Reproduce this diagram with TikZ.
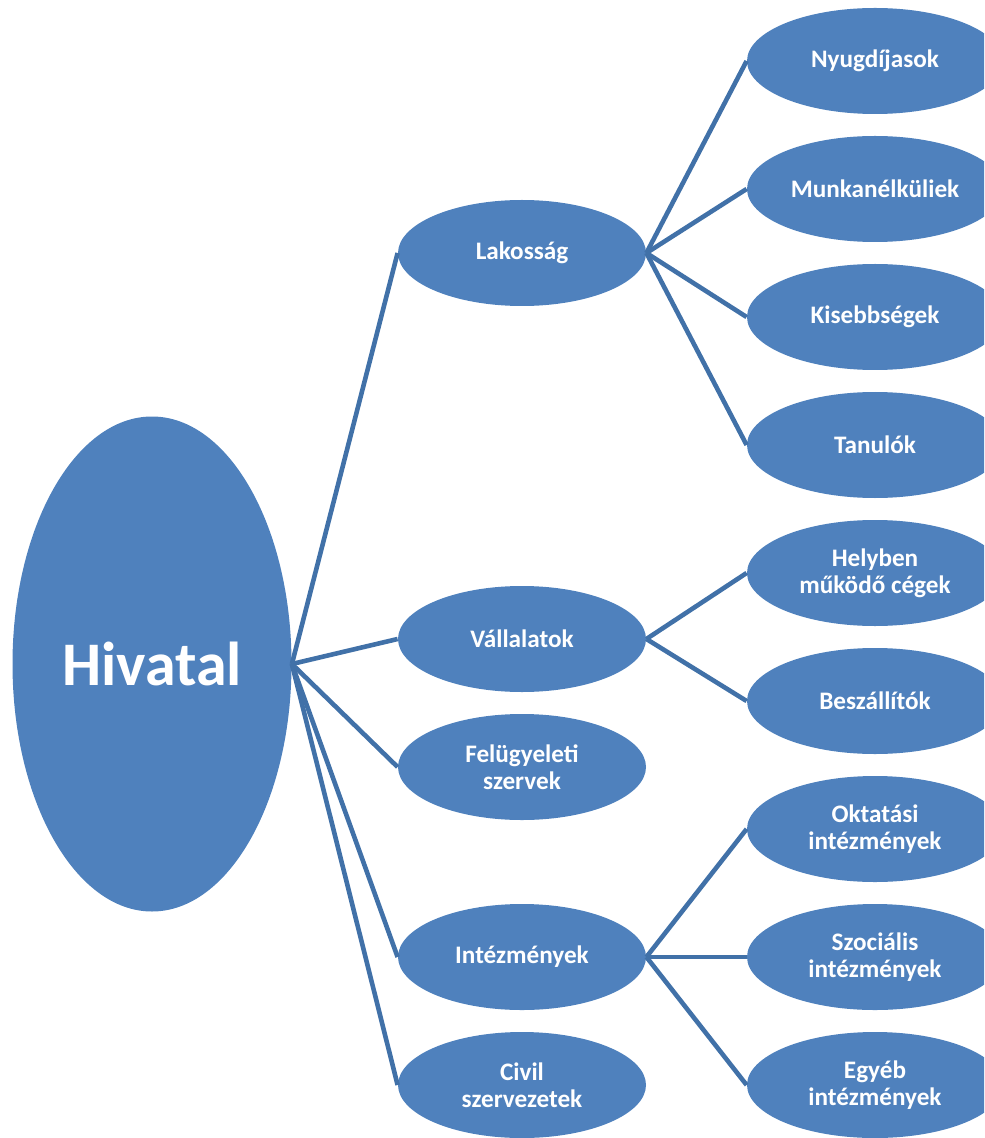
\documentclass[tikz,border=0pt]{standalone}
\usepackage{fontspec}
\setmainfont{Carlito}
\usepackage{tikz}
\usetikzlibrary{shapes.geometric}
\definecolor{nodeblue}{HTML}{4F81BD}
\definecolor{lineblue}{HTML}{4171A8}
\tikzset{
    box/.style={ellipse, fill=nodeblue, text=white, inner sep=0pt, align=center, font=\fontsize{12.6}{13.5}\selectfont\bfseries},
    hub/.style={box, minimum width=139.5pt, minimum height=247.5pt, font=\fontsize{31}{34}\selectfont\bfseries},
    group/.style={box, minimum width=124pt, minimum height=53pt},
    leaf/.style={group, minimum width=128pt},
    link/.style={line width=2.3pt, lineblue}
}

\begin{document}
\begin{tikzpicture}[x=0.5pt, y=-0.5pt]
    \useasboundingbox (0,0) rectangle (984,1138);
    \clip (0,0) rectangle (984,1138);
    % Hivatal
    \node[hub] (hiv) at (152,664) {Hivatal};
    % Second level
    \node[group] (lak) at (522,253) {Lakosság};
    \node[group] (val) at (522,639) {Vállalatok};
    \node[group] (fel) at (522,767) {Felügyeleti\\szervek};
    \node[group] (int) at (522,957) {Intézmények};
    \node[group] (civ) at (522,1085) {Civil\\szervezetek};
    % Third level
    \node[leaf] (nyu) at (875,61) {Nyugdíjasok};
    \node[leaf] (mun) at (875,189) {Munkanélküliek};
    \node[leaf] (kis) at (875,317) {Kisebbségek};
    \node[leaf] (tan) at (875,445) {Tanulók};
    \node[leaf] (hel) at (875,573) {Helyben\\működő cégek};
    \node[leaf] (bes) at (875,701) {Beszállítók};
    \node[leaf] (okt) at (875,829) {Oktatási\\intézmények};
    \node[leaf] (szo) at (875,957) {Szociális\\intézmények};
    \node[leaf] (egy) at (875,1085) {Egyéb\\intézmények};
    % Links
    \foreach \g in {lak,val,fel,int,civ}
        \draw[link] (hiv.east) -- (\g.west);
    \foreach \l in {nyu,mun,kis,tan}
        \draw[link] (lak.east) -- (\l.west);
    \foreach \l in {hel,bes}
        \draw[link] (val.east) -- (\l.west);
    \foreach \l in {okt,szo,egy}
        \draw[link] (int.east) -- (\l.west);
\end{tikzpicture}
\end{document}
